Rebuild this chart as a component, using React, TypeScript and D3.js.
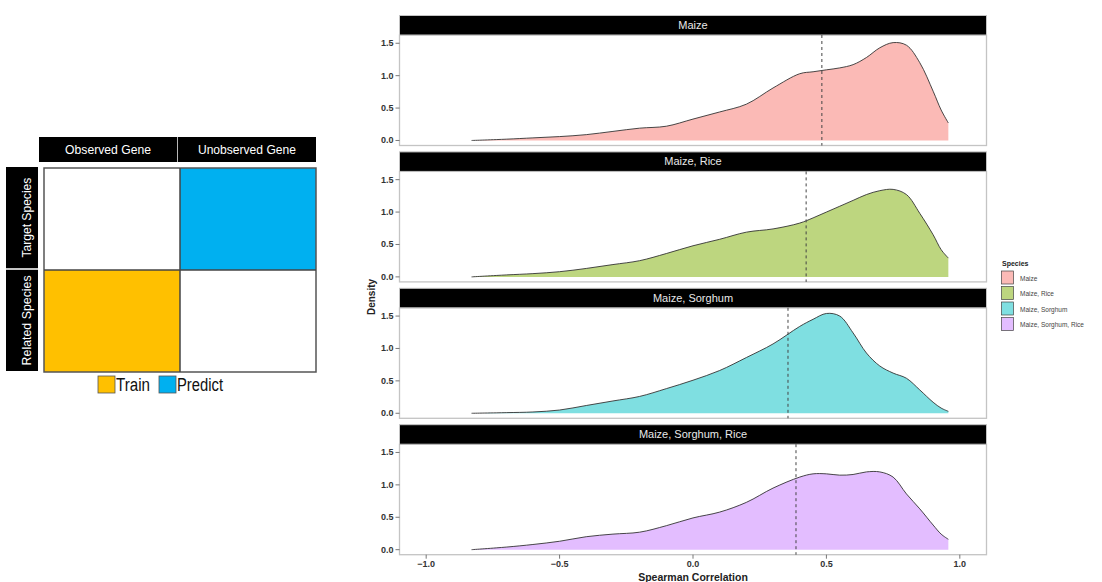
import React from 'react';
import * as d3 from 'd3';

// left schematic
const colLabels = ['Observed Gene', 'Unobserved Gene'];
const rowLabels = ['Target Species', 'Related Species'];
const cellFill = [
  ['#FFFFFF', '#00B0F0'],
  ['#FFC000', '#FFFFFF'],
];
const schemeLegend = [
  { label: 'Train', color: '#FFC000' },
  { label: 'Predict', color: '#00B0F0' },
];

// density panels
const species = ['Maize', 'Maize, Rice', 'Maize, Sorghum', 'Maize, Sorghum, Rice'];
const speciesColors = ['#F8766D', '#7CAE00', '#00BFC4', '#C77CFF'];
const corrGrid = [-0.83, -0.7, -0.6, -0.5, -0.4, -0.3, -0.2, -0.1, 0.0, 0.1, 0.2, 0.3, 0.4, 0.45, 0.5, 0.55, 0.6, 0.65, 0.7, 0.75, 0.8, 0.85, 0.9, 0.93, 0.957];
const densMaize = [0.0, 0.02, 0.04, 0.06, 0.09, 0.14, 0.19, 0.22, 0.33, 0.44, 0.56, 0.81, 1.03, 1.06, 1.09, 1.12, 1.17, 1.28, 1.43, 1.51, 1.47, 1.2, 0.76, 0.47, 0.27];
const densMaizeRice = [0.0, 0.03, 0.05, 0.08, 0.13, 0.19, 0.25, 0.36, 0.48, 0.58, 0.69, 0.74, 0.83, 0.91, 1.0, 1.09, 1.18, 1.27, 1.33, 1.35, 1.27, 0.98, 0.65, 0.42, 0.29];
const densMaizeSorghum = [0.0, 0.01, 0.02, 0.05, 0.12, 0.19, 0.26, 0.38, 0.51, 0.66, 0.86, 1.07, 1.34, 1.45, 1.54, 1.5, 1.24, 0.93, 0.73, 0.62, 0.54, 0.36, 0.17, 0.08, 0.03];
const densMaizeSorghumRice = [0.0, 0.04, 0.08, 0.13, 0.2, 0.24, 0.27, 0.37, 0.49, 0.58, 0.73, 0.95, 1.12, 1.17, 1.17, 1.15, 1.16, 1.2, 1.2, 1.12, 0.86, 0.63, 0.38, 0.24, 0.16];
const densities = [densMaize, densMaizeRice, densMaizeSorghum, densMaizeSorghumRice];
const meanCorr = [0.483, 0.424, 0.356, 0.386];
const xTicks = [-1, -0.5, 0, 0.5, 1];
const yTicks = [0, 0.5, 1, 1.5];

const narrow = '"Liberation Sans Narrow", "Liberation Sans", Arial, sans-serif';
const sans = '"Liberation Sans", Arial, Helvetica, sans-serif';

const Scheme = () => {
  const xHead = d3.scaleBand().domain(colLabels).range([39, 316]).paddingInner(0.005);
  const yHead = d3.scaleBand().domain(rowLabels).range([167, 371]).paddingInner(0.015);
  const xCell = d3.scaleBand().domain(colLabels).range([44, 316]);
  const yCell = d3.scaleBand().domain(rowLabels).range([168, 372]);
  const headWidth = [86, 98];
  const rowWidth = [80, 90];
  return (
    <g>
      {colLabels.map((c, i) => (
        <g key={c}>
          <rect x={xHead(c)} y={137} width={xHead.bandwidth()} height={25} fill="#000" />
          <text x={xHead(c)! + xHead.bandwidth() / 2} y={154} textAnchor="middle" fill="#fff" fontSize={13}
            fontFamily={narrow} textLength={headWidth[i]} lengthAdjust="spacingAndGlyphs">{c}</text>
        </g>
      ))}
      {rowLabels.map((r, i) => {
        const cy = yHead(r)! + yHead.bandwidth() / 2;
        return (
          <g key={r}>
            <rect x={6} y={yHead(r)} width={32} height={yHead.bandwidth()} fill="#000" />
            <text transform={`translate(27,${cy}) rotate(-90)`} y={4} textAnchor="middle" fill="#fff" fontSize={13}
              fontFamily={narrow} textLength={rowWidth[i]} lengthAdjust="spacingAndGlyphs">{r}</text>
          </g>
        );
      })}
      {rowLabels.map((r, ri) =>
        colLabels.map((c, ci) => (
          <rect key={r + c} x={xCell(c)} y={yCell(r)} width={xCell.bandwidth()} height={yCell.bandwidth()}
            fill={cellFill[ri][ci]} />
        ))
      )}
      <rect x={44} y={168} width={272} height={204} fill="none" stroke="#555" strokeWidth={1.5} />
      <line x1={xCell(colLabels[1])} x2={xCell(colLabels[1])} y1={168} y2={372} stroke="#444" strokeWidth={1.5} />
      <line x1={44} x2={316} y1={yCell(rowLabels[1])} y2={yCell(rowLabels[1])} stroke="#444" strokeWidth={1.5} />
      {schemeLegend.map((l, i) => {
        const x0 = 98 + i * 61;
        return (
          <g key={l.label}>
            <rect x={x0} y={376} width={17} height={17} fill={l.color} stroke="#555" strokeWidth={0.8} />
            <text x={x0 + 18} y={391} fontSize={18} fontFamily={narrow} fill="#111"
              textLength={l.label === 'Train' ? 34 : 46} lengthAdjust="spacingAndGlyphs">{l.label}</text>
          </g>
        );
      })}
    </g>
  );
};

const Densities = () => {
  const left = 399.5;
  const right = 986.5;
  const stripH = 19.5;
  const plotH = 110.5;
  const period = 136.4;
  const x = d3.scaleLinear().domain([-1.1, 1.1]).range([left, right]);
  const fmt = d3.format('.1f');
  const curve = d3.curveCatmullRom.alpha(0.5);
  return (
    <g>
      {species.map((s, i) => {
        const top = 15.5 + i * period;
        const pTop = top + stripH;
        const pBot = pTop + plotH;
        const y = d3.scaleLinear().domain([-0.0775, 1.6275]).range([pBot, pTop]);
        const pts: [number, number][] = corrGrid.map((c, k) => [c, densities[i][k]]);
        const area = d3.area<[number, number]>().x(d => x(d[0])).y0(y(0)).y1(d => y(d[1])).curve(curve);
        const line = d3.line<[number, number]>().x(d => x(d[0])).y(d => y(d[1])).curve(curve);
        return (
          <g key={s}>
            <rect x={left} y={pTop} width={right - left} height={plotH} fill="#fff" stroke="#c4c4c4" strokeWidth={1.3} />
            <rect x={left} y={top} width={right - left} height={stripH} fill="#000" stroke="#c4c4c4" strokeWidth={1} />
            <text x={(left + right) / 2} y={top + 13.5} textAnchor="middle" fill="#e8e8e8" fontSize={11} fontFamily={sans}>{s}</text>
            <path d={area(pts)!} fill={speciesColors[i]} fillOpacity={0.5} />
            <path d={line(pts)!} fill="none" stroke="#333" strokeWidth={0.9} />
            <line x1={x(meanCorr[i])} x2={x(meanCorr[i])} y1={pTop} y2={pBot} stroke="#444" strokeWidth={1} strokeDasharray="3,3" />
            {yTicks.map(t => (
              <g key={t}>
                <line x1={left - 4} x2={left} y1={y(t)} y2={y(t)} stroke="#555" strokeWidth={0.8} />
                <text x={left - 6} y={y(t) + 3} textAnchor="end" fontSize={9} fontWeight="bold" fill="#333" fontFamily={sans}>{fmt(t)}</text>
              </g>
            ))}
            {i === species.length - 1 && xTicks.map(t => (
              <g key={t}>
                <line x1={x(t)} x2={x(t)} y1={pBot} y2={pBot + 4} stroke="#555" strokeWidth={0.8} />
                <text x={x(t)} y={pBot + 12} textAnchor="middle" fontSize={9} fontWeight="bold" fill="#333" fontFamily={sans}>{fmt(t)}</text>
              </g>
            ))}
          </g>
        );
      })}
      <text transform="translate(375,297) rotate(-90)" textAnchor="middle" fontSize={10} fontWeight="bold" fill="#222" fontFamily={sans}>Density</text>
      <text x={(left + right) / 2} y={581} textAnchor="middle" fontSize={10.5} fontWeight="bold" fill="#222" fontFamily={sans}>Spearman Correlation</text>
      <text x={1002} y={266} fontSize={7} fontWeight="bold" fill="#222" fontFamily={sans}>Species</text>
      {species.map((s, i) => (
        <g key={s}>
          <rect x={1001.5} y={271 + i * 15.5} width={12} height={13} fill={speciesColors[i]} fillOpacity={0.5} stroke="#444" strokeWidth={0.7} />
          <text x={1020} y={280.5 + i * 15.5} fontSize={6.5} fill="#444" fontFamily={sans}>{s}</text>
        </g>
      ))}
    </g>
  );
};

export default function App() {
  return (
    <svg width={1102} height={582} style={{ position: 'absolute', left: 0, top: 0, background: '#fff' }}>
      <Scheme />
      <Densities />
    </svg>
  );
}
